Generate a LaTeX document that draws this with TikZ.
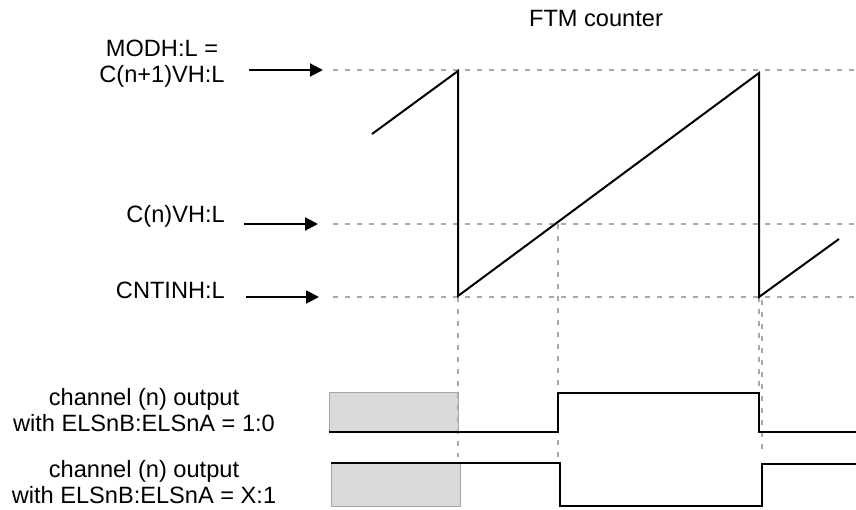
\documentclass[tikz,border=0pt]{standalone}
\usepackage{fontspec}
\setmainfont{Liberation Sans}
\usetikzlibrary{arrows.meta}
\definecolor{guide}{HTML}{A8A8A8}
\definecolor{boxfill}{HTML}{D9D9D9}
\definecolor{boxline}{HTML}{A6A6A6}
\begin{document}
\begin{tikzpicture}[x=1pt,y=-1pt,
  lbl/.style={inner sep=0pt,font=\fontsize{23.6}{26}\selectfont,align=center},
  guideline/.style={draw=guide,line width=1.3pt,dash pattern=on 5pt off 7pt},
  wave/.style={draw=black,line width=2pt,line join=miter},
  pointer/.style={draw=black,line width=2pt,-{Triangle[length=13pt,width=13pt]}},
  hatchbox/.style={fill=boxfill,draw=boxline,line width=1pt}]
\useasboundingbox (0,0) rectangle (856,510);
% title
\node[lbl,anchor=base] (title) at (596,27) {FTM counter};
% left labels
\node[lbl,anchor=center] (modh) at (162,63.5) {MODH:L =\\C(n+1)VH:L};
\node[lbl,anchor=base east] (cnv) at (225,223) {C(n)VH:L};
\node[lbl,anchor=base east] (cntin) at (225,299) {CNTINH:L};
\node[lbl,anchor=center] (ch1) at (144,410) {channel (n) output\\with ELSnB:ELSnA = 1:0};
\node[lbl,anchor=center] (ch2) at (144,482) {channel (n) output\\with ELSnB:ELSnA = X:1};
% coordinates
\coordinate (m0) at (249,70);  \coordinate (m1) at (323,70);
\coordinate (c0) at (244,224); \coordinate (c1) at (318,224);
\coordinate (i0) at (246,297); \coordinate (i1) at (319,297);
\coordinate (gm0) at (333,70);  \coordinate (gm1) at (856,70);
\coordinate (gc0) at (333,224); \coordinate (gc1) at (856,224);
\coordinate (gi0) at (333,297); \coordinate (gi1) at (856,297);
% horizontal guides
\draw[guideline] (gm0) -- (gm1);
\draw[guideline] (gc0) -- (gc1);
\draw[guideline] (gi0) -- (gi1);
% vertical guides
\coordinate (v1a) at (458,297); \coordinate (v1b) at (458,457);
\coordinate (v2a) at (558,224); \coordinate (v2b) at (558,463);
\coordinate (v3a) at (759,297); \coordinate (v3b) at (759,433);
\coordinate (v4a) at (762,300); \coordinate (v4b) at (762,455);
% gray boxes
\path[hatchbox] (329,392) rectangle (458,432);
\path[hatchbox] (331,463) rectangle (460,506);
\draw[guideline] (v1a) -- (v1b);
\draw[guideline] (v2a) -- (v2b);
\draw[guideline] (v3a) -- (v3b);
\draw[guideline] (v4a) -- (v4b);
% pointers
\draw[pointer] (m0) -- (m1);
\draw[pointer] (c0) -- (c1);
\draw[pointer] (i0) -- (i1);
% sawtooth
\draw[wave] (372,134) -- (458,71) -- (458,296) -- (759,73) -- (759,297) -- (839,239);
% channel waves
\draw[wave] (329,432) -- (558,432) -- (558,393) -- (759,393) -- (759,432) -- (856,432);
\draw[wave] (331,463) -- (560,463) -- (560,506) -- (762,506) -- (762,464) -- (856,464);
\end{tikzpicture}
\end{document}
